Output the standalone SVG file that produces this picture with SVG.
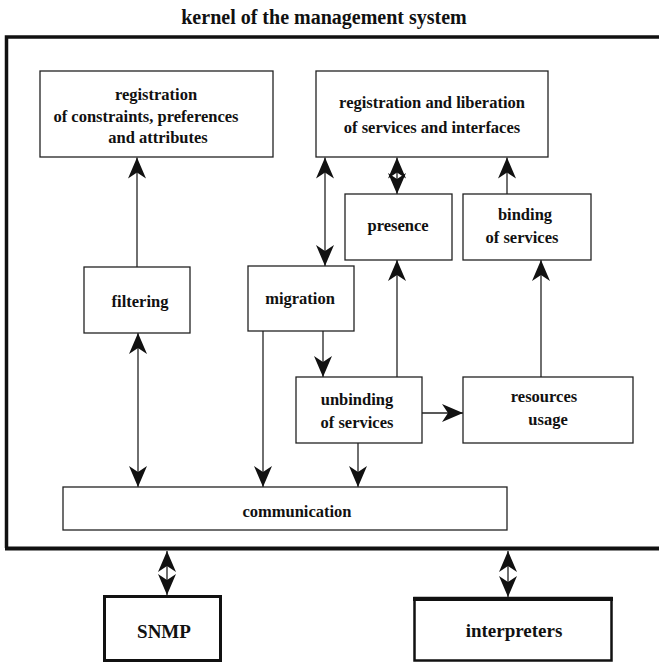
<svg xmlns="http://www.w3.org/2000/svg" width="659" height="664" viewBox="0 0 659 664">
<style>
text{font-family:"Liberation Serif","Times New Roman",serif;font-weight:bold;fill:#111;text-anchor:middle}
.t{font-size:16.5px}
.big{font-size:19px}
.title{font-size:20px}
.box{fill:#fff;stroke:#222;stroke-width:1.3}
.line{fill:none;stroke:#222;stroke-width:1.3}
.a{marker-end:url(#ah)}
.aa{marker-end:url(#ah);marker-start:url(#ahs)}
</style>
<defs>
<marker id="ah" markerUnits="userSpaceOnUse" viewBox="-22 -10 23 20" refX="0" refY="0" markerWidth="23" markerHeight="20" orient="auto">
<path d="M0,0 L-21,-9 L-15,0 L-21,9 Z" fill="#111"/>
</marker>
<marker id="ahs" markerUnits="userSpaceOnUse" viewBox="-22 -10 23 20" refX="0" refY="0" markerWidth="23" markerHeight="20" orient="auto-start-reverse">
<path d="M0,0 L-21,-9 L-15,0 L-21,9 Z" fill="#111"/>
</marker>
</defs>
<rect width="659" height="664" fill="#fff"/>
<text class="title" x="324" y="24">kernel of the management system</text>
<g id="kernel-frame">
<path d="M659,37 H6.5 V548" fill="none" stroke="#111" stroke-width="3.5"/>
<path d="M5,548.5 H659" fill="none" stroke="#111" stroke-width="4"/>
</g>
<g id="connectors">
<path class="line a" d="M137,267 V157.5"/>
<path class="line aa" d="M138,333 V487"/>
<path class="line aa" d="M325,157.5 V266"/>
<path class="line aa" d="M397,157.5 V194"/>
<path class="line a" d="M507,194 V157.5"/>
<path class="line a" d="M323,331 V377"/>
<path class="line a" d="M263,331 V487"/>
<path class="line a" d="M397,377 V260"/>
<path class="line a" d="M541,377 V260"/>
<path class="line a" d="M422,413 H463"/>
<path class="line a" d="M358,443 V487"/>
<path class="line aa" d="M167,551 V595"/>
<path class="line aa" d="M508,551 V597"/>
</g>
<g id="reg-constraints">
<rect class="box" x="40" y="71" width="233" height="86"/>
<text class="t" x="156" y="100">registration</text>
<text class="t" x="146" y="122">of constraints, preferences</text>
<text class="t" x="158" y="143">and attributes</text>
</g>
<g id="reg-liberation">
<rect class="box" x="316" y="71" width="232" height="86"/>
<text class="t" x="432" y="108">registration and liberation</text>
<text class="t" x="432" y="133">of services and interfaces</text>
</g>
<g id="presence">
<rect class="box" x="345" y="194" width="107" height="66"/>
<text class="t" x="398" y="231">presence</text>
</g>
<g id="binding">
<rect class="box" x="463" y="194" width="128" height="66"/>
<text class="t" x="525" y="220">binding</text>
<text class="t" x="522" y="243">of services</text>
</g>
<g id="filtering">
<rect class="box" x="84" y="267" width="106" height="66"/>
<text class="t" x="140" y="307">filtering</text>
</g>
<g id="migration">
<rect class="box" x="248" y="266" width="106" height="65"/>
<text class="t" x="300" y="304">migration</text>
</g>
<g id="unbinding">
<rect class="box" x="296" y="377" width="126" height="66"/>
<text class="t" x="357" y="405">unbinding</text>
<text class="t" x="357" y="428">of services</text>
</g>
<g id="resources">
<rect class="box" x="463" y="377" width="170" height="66"/>
<text class="t" x="544" y="402">resources</text>
<text class="t" x="548" y="425">usage</text>
</g>
<g id="communication">
<rect class="box" x="63" y="487" width="444" height="43"/>
<text class="t" x="297" y="517">communication</text>
</g>
<g id="snmp">
<rect x="104.5" y="596.5" width="116" height="64" fill="#fff" stroke="#111" stroke-width="3"/>
<text class="big" x="164" y="638">SNMP</text>
</g>
<g id="interpreters">
<rect x="414.5" y="598" width="197" height="62.5" fill="#fff" stroke="#111" stroke-width="2.5"/>
<path d="M413,599 H613" stroke="#111" stroke-width="4"/>
<text class="big" x="514" y="637">interpreters</text>
</g>
</svg>
